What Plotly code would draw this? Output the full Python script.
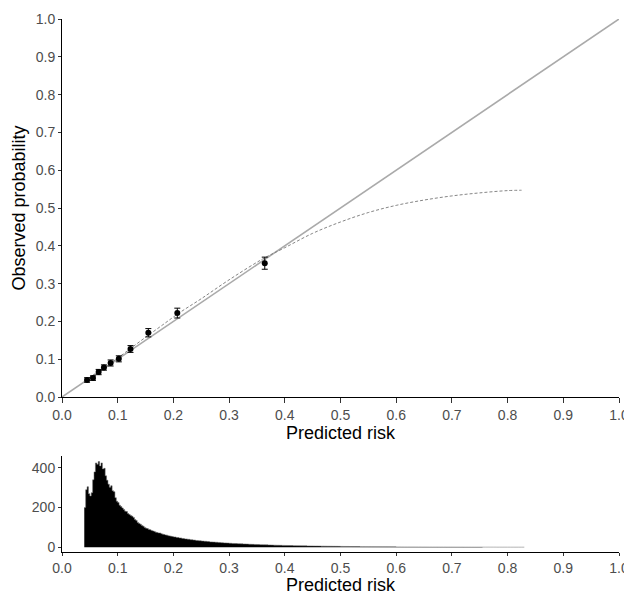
import numpy as np
import plotly.graph_objects as go

# Calibration points (deciles)
pred_mean = [0.045, 0.0556, 0.0658, 0.0753, 0.0873, 0.102, 0.123, 0.155, 0.207, 0.364]
obs_mean = [0.045, 0.050, 0.066, 0.078, 0.090, 0.101, 0.127, 0.170, 0.222, 0.354]
obs_err = [0.006, 0.006, 0.007, 0.007, 0.008, 0.008, 0.009, 0.011, 0.013, 0.016]

# Smoothed (loess) calibration curve
curve_x = [0.04, 0.06, 0.08, 0.10, 0.12, 0.15, 0.18, 0.21, 0.25, 0.30, 0.36,
           0.40, 0.45, 0.50, 0.55, 0.60, 0.65, 0.70, 0.75, 0.80, 0.825]
curve_y = [0.042, 0.062, 0.082, 0.103, 0.125, 0.158, 0.190, 0.222, 0.260, 0.310, 0.365,
           0.395, 0.433, 0.463, 0.488, 0.507, 0.521, 0.532, 0.540, 0.546, 0.547]

# Histogram of predicted risk
# fine bins (width 0.0025) from 0.040 to 0.200
fine_start = 0.040
fine_width = 0.0025
fine_counts = [
    200, 290, 305, 270, 258, 275, 340, 380, 425, 418, 432, 410, 425, 395, 398, 360,
    338, 318, 302, 310, 285, 280, 250, 232, 225, 212, 205, 198, 190, 182, 180, 170,
    165, 160, 156, 150, 140, 135, 125, 120, 116, 110, 106, 100, 96, 94, 90, 88,
    84, 82, 80, 76, 74, 72, 72, 68, 66, 64, 62, 61, 58, 57, 55, 54,
]
# coarser bins (width 0.005) from 0.200 to 0.830
coarse_start = 0.200
coarse_width = 0.005
coarse_counts = [
    52, 49, 47, 44, 42, 40, 38, 36, 34, 33, 31, 30, 29, 27, 26, 25, 24, 23, 22, 21,
    20, 19, 18.5, 18, 17, 16.5, 16, 15, 14.5, 14, 13.5, 13, 12.5, 12, 11.5, 11, 10.5, 10, 9.7, 9.3,
    9, 8.7, 8.4, 8.1, 7.8, 7.5, 7.2, 7, 6.7, 6.5, 6.2, 6, 5.8, 5.6, 5.4, 5.2, 5, 4.8, 4.6, 4.4,
    4.2, 4, 3.9, 3.7, 3.6, 3.4, 3.3, 3.1, 3, 2.9, 2.8, 2.7, 2.6, 2.5, 2.4, 2.3, 2.2, 2.1, 2, 1.9,
    1.8, 1.8, 1.7, 1.6, 1.6, 1.5, 1.5, 1.4, 1.4, 1.3, 1.3, 1.2, 1.2, 1.1, 1.1, 1, 1, 1, 0.9, 0.9,
    0.9, 0.8, 0.8, 0.8, 0.7, 0.7, 0.7, 0.6, 0.6, 0.6, 0.6, 0.5, 0.5, 0.5, 0.5, 0.5, 0.4, 0.4, 0.4, 0.4,
    0.4, 0.3, 0.3, 0.3, 0.3, 0.3,
]

tick_vals = [0.0, 0.1, 0.2, 0.3, 0.4, 0.5, 0.6, 0.7, 0.8, 0.9, 1.0]
tick_text = ["0.0", "0.1", "0.2", "0.3", "0.4", "0.5", "0.6", "0.7", "0.8", "0.9", "1.0"]
hist_ticks = [0, 200, 400]

fine_edges = fine_start + fine_width * np.arange(len(fine_counts))
coarse_edges = coarse_start + coarse_width * np.arange(len(coarse_counts) + 1)
edges = np.concatenate([fine_edges, coarse_edges])
step_y = list(fine_counts) + list(coarse_counts) + [coarse_counts[-1]]

FONT = "Liberation Sans, Arial, sans-serif"
TICKC = "#4d4d4d"
TITLE_FONT = dict(family=FONT, size=18, color="black")

fig = go.Figure()

# Diagonal reference line
fig.add_trace(go.Scatter(x=[0, 1], y=[0, 1], mode="lines",
                         line=dict(color="#aaaaaa", width=1.6),
                         xaxis="x", yaxis="y", hoverinfo="skip"))
# Smoothed curve
fig.add_trace(go.Scatter(x=curve_x, y=curve_y, mode="lines", line_shape="spline",
                         line=dict(color="#777777", width=0.9, dash="3px,2px"),
                         xaxis="x", yaxis="y"))
# Points with error bars
fig.add_trace(go.Scatter(x=pred_mean, y=obs_mean, mode="markers",
                         marker=dict(color="black", size=6),
                         error_y=dict(type="data", array=obs_err, color="black",
                                      thickness=1, width=3),
                         xaxis="x", yaxis="y"))
# Histogram
fig.add_trace(go.Scatter(x=edges, y=step_y, mode="lines", line_shape="hv",
                         fill="tozeroy", fillcolor="black",
                         line=dict(color="#666666", width=0.5),
                         xaxis="x2", yaxis="y2"))

axis_common = dict(showline=True, linecolor="black", linewidth=1,
                   tickcolor="#333333", tickwidth=1,
                   showgrid=False, zeroline=False, automargin=False,
                   tickfont=dict(family=FONT, size=14, color=TICKC))

# The page body has an 8px margin, so the figure is sized to fit the window.
fig.update_layout(
    width=624, height=587,
    margin=dict(l=54, r=13, t=11, b=43),
    paper_bgcolor="white", plot_bgcolor="white",
    showlegend=False,
    font=dict(family=FONT),
    xaxis=dict(domain=[0, 1], range=[0, 1], anchor="y",
               tickvals=tick_vals, ticktext=tick_text,
               ticks="outside", ticklen=5,
               title=dict(text="Predicted risk", font=TITLE_FONT, standoff=0),
               **axis_common),
    yaxis=dict(domain=[0.2908, 1], range=[0, 1], anchor="x",
               tickvals=tick_vals, ticktext=tick_text,
               ticks="outside", ticklen=3,
               title=dict(text="Observed probability", font=TITLE_FONT, standoff=5),
               **axis_common),
    xaxis2=dict(domain=[0, 1], range=[0, 1], anchor="y2",
                tickvals=tick_vals, ticktext=tick_text,
                ticks="outside", ticklen=3,
                title=dict(text="Predicted risk", font=TITLE_FONT, standoff=3),
                **axis_common),
    yaxis2=dict(domain=[0, 0.1801], range=[-24, 460], anchor="x2",
                tickvals=hist_ticks,
                ticks="outside", ticklen=3,
                **axis_common),
)

fig.write_html("out.html")
